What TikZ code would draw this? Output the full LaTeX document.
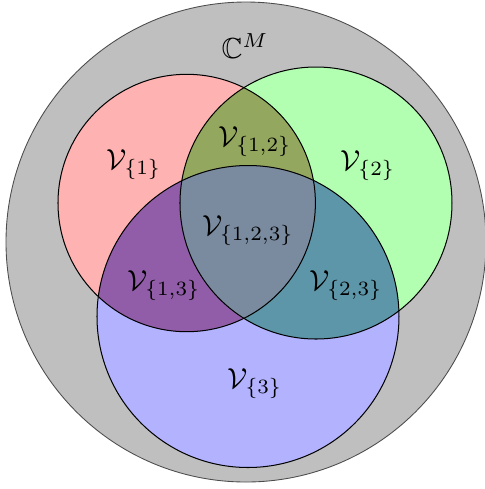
\documentclass[tikz,border=0pt]{standalone}
\usepackage{amssymb}
\definecolor{bgc}{RGB}{191,191,191}
\definecolor{cA}{RGB}{255,178,178}
\definecolor{cB}{RGB}{178,255,178}
\definecolor{cC}{RGB}{178,178,255}
\definecolor{cAB}{RGB}{148,167,94}
\definecolor{cAC}{RGB}{145,93,168}
\definecolor{cBC}{RGB}{93,150,168}
\definecolor{cABC}{RGB}{122,139,160}
\tikzset{outline/.style={draw=black,line width=0.35pt},lbl/.style={inner sep=0pt}}
\begin{document}
\begin{tikzpicture}[x=0.345pt,y=-0.345pt]
\useasboundingbox (0,0) rectangle (485,489);
\clip (0,0) rectangle (485,489);
\def\circA{(186.7,203) circle[radius=128.7]}
\def\circB{(316,203) circle[radius=136]}
\def\circC{(248,316.5) circle[radius=151]}
\fill[bgc,draw=black!70,line width=0.3pt] (246,242) circle[radius=240];
\fill[cA] \circA;
\fill[cB] \circB;
\fill[cC] \circC;
\begin{scope}\clip \circA; \fill[cAB] \circB; \end{scope}
\begin{scope}\clip \circA; \fill[cAC] \circC; \end{scope}
\begin{scope}\clip \circB; \fill[cBC] \circC; \end{scope}
\begin{scope}\clip \circA; \clip \circB; \fill[cABC] \circC; \end{scope}
\draw[outline] \circA;
\draw[outline] \circB;
\draw[outline] \circC;
\node[lbl] (cm) at (245,46) {$\mathbb{C}^M$};
\node[lbl] (v1) at (134,165) {$\mathcal{V}_{\{1\}}$};
\node[lbl] (v12) at (255,142) {$\mathcal{V}_{\{1,2\}}$};
\node[lbl] (v2) at (368,166) {$\mathcal{V}_{\{2\}}$};
\node[lbl] (v123) at (248,231) {$\mathcal{V}_{\{1,2,3\}}$};
\node[lbl] (v13) at (164,286) {$\mathcal{V}_{\{1,3\}}$};
\node[lbl] (v23) at (346,286) {$\mathcal{V}_{\{2,3\}}$};
\node[lbl] (v3) at (255,384) {$\mathcal{V}_{\{3\}}$};
\end{tikzpicture}
\end{document}
